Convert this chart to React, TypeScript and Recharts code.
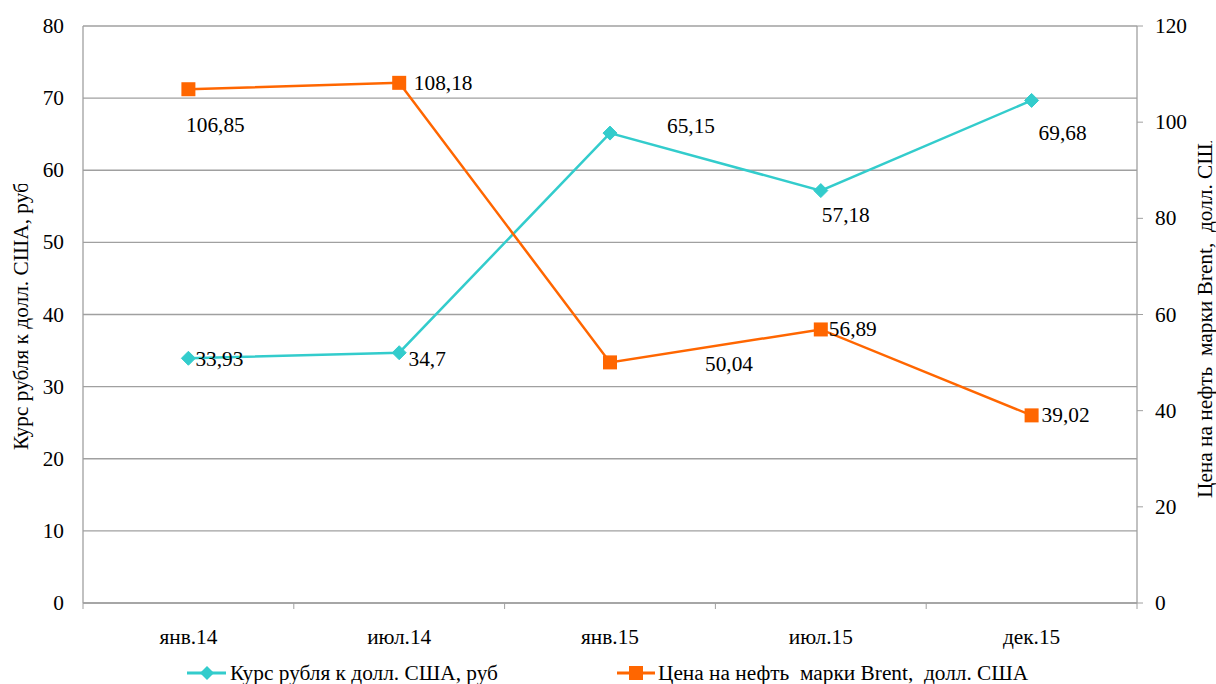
import React from "react";
import {
  LineChart,
  Line,
  XAxis,
  YAxis,
  CartesianGrid,
  Legend,
} from "recharts";

const categories = ["янв.14", "июл.14", "янв.15", "июл.15", "дек.15"];
const rubleValues = [33.93, 34.7, 65.15, 57.18, 69.68];
const brentValues = [106.85, 108.18, 50.04, 56.89, 39.02];
const leftTicks = [0, 10, 20, 30, 40, 50, 60, 70, 80];
const rightTicks = [0, 20, 40, 60, 80, 100, 120];

const rubleName = "Курс рубля к долл. США, руб";
const brentName = "Цена на нефть  марки Brent,  долл. США";

// label offsets (dx, dy) relative to each point
const rubleLabelOffsets = [
  [31, 1],
  [28, 6],
  [81, -7],
  [25, 24],
  [31, 33],
];
const brentLabelOffsets = [
  [27, 36],
  [44, 0],
  [119, 2],
  [32, 0],
  [34, 0],
];

const data = categories.map((c, i) => ({
  cat: c,
  ruble: rubleValues[i],
  brent: brentValues[i],
}));

const TEAL = "#33CCCC";
const ORANGE = "#FF6600";
const GRID = "#A0A0A0";
const FONT = "Liberation Serif";
const FS = 21.33;

const W = 1216;
const H = 684;

const fmt = (v: number) => String(v).replace(".", ",");

const makeLabel =
  (offsets: number[][]) =>
  (props: any) => {
    const { x, y, value, index } = props;
    const [dx, dy] = offsets[index] || [0, 0];
    return (
      <text
        x={x + dx}
        y={y + dy}
        textAnchor="middle"
        dominantBaseline="central"
        style={{ fontFamily: FONT, fontSize: FS }}
        fill="#000"
      >
        {fmt(value)}
      </text>
    );
  };

const Diamond = (props: any) => {
  const { cx, cy } = props;
  if (cx == null || cy == null) return null;
  const r = 7;
  return (
    <path
      d={`M${cx},${cy - r} L${cx + r},${cy} L${cx},${cy + r} L${cx - r},${cy} Z`}
      fill={TEAL}
      stroke={TEAL}
    />
  );
};

const Square = (props: any) => {
  const { cx, cy } = props;
  if (cx == null || cy == null) return null;
  const s = 14;
  return (
    <rect x={cx - s / 2} y={cy - s / 2} width={s} height={s} fill={ORANGE} />
  );
};

const CatTick = (props: any) => {
  const { x, y, payload, index } = props;
  const half = payload && payload.offset ? payload.offset : 105.4;
  const top = y - 8;
  return (
    <g>
      <line x1={x - half} y1={top} x2={x - half} y2={top + 6} stroke={GRID} strokeWidth={1} />
      {index === categories.length - 1 && (
        <line x1={x + half} y1={top} x2={x + half} y2={top + 6} stroke={GRID} strokeWidth={1} />
      )}
      <text
        x={x}
        y={top + 34}
        textAnchor="middle"
        dominantBaseline="central"
        style={{ fontFamily: FONT, fontSize: FS }}
        fill="#000"
      >
        {payload.value}
      </text>
    </g>
  );
};

const LeftValTick = (props: any) => {
  const { x, y, payload } = props;
  return (
    <text
      x={x - 11}
      y={y}
      textAnchor="end"
      dominantBaseline="central"
      style={{ fontFamily: FONT, fontSize: FS }}
      fill="#000"
    >
      {payload.value}
    </text>
  );
};

const RightValTick = (props: any) => {
  const { x, y, payload } = props;
  return (
    <text
      x={x + 10}
      y={y}
      textAnchor="start"
      dominantBaseline="central"
      style={{ fontFamily: FONT, fontSize: FS }}
      fill="#000"
    >
      {payload.value}
    </text>
  );
};

const LegendContent = () => (
  <div style={{ position: "relative", width: W, height: 28 }}>
    <svg
      width={W}
      height={28}
      style={{ position: "absolute", left: 0, top: 0, overflow: "visible" }}
    >
      <line x1={187} y1={14} x2={226} y2={14} stroke={TEAL} strokeWidth={3} />
      <path d="M207,7 L214,14 L207,21 L200,14 Z" fill={TEAL} />
      <text
        x={230}
        y={14}
        dominantBaseline="central"
        style={{ fontFamily: FONT, fontSize: FS }}
        fill="#000"
      >
        {rubleName}
      </text>
      <line x1={617} y1={14} x2={655} y2={14} stroke={ORANGE} strokeWidth={3} />
      <rect x={629} y={7} width={14} height={14} fill={ORANGE} />
      <text
        x={658}
        y={14}
        dominantBaseline="central"
        style={{ fontFamily: FONT, fontSize: FS, whiteSpace: "pre" }}
        fill="#000"
      >
        {brentName}
      </text>
    </svg>
  </div>
);

const LeftTitle = () => {
  return (
    <g>
      <defs>
        <clipPath id="clipLeftTitle">
          <rect x={0} y={184} width={44} height={400} />
        </clipPath>
      </defs>
      <g clipPath="url(#clipLeftTitle)">
        <text
          x={21}
          y={450}
          transform="rotate(-90 21 450)"
          textAnchor="start"
          dominantBaseline="central"
          style={{ fontFamily: FONT, fontSize: FS }}
          fill="#000"
        >
          {rubleName}
        </text>
      </g>
    </g>
  );
};

const RightTitle = () => {
  return (
    <g>
      <defs>
        <clipPath id="clipRightTitle">
          <rect x={1186} y={141} width={30} height={420} />
        </clipPath>
      </defs>
      <g clipPath="url(#clipRightTitle)">
        <text
          x={1205}
          y={498}
          transform="rotate(-90 1205 498)"
          textAnchor="start"
          dominantBaseline="central"
          style={{ fontFamily: FONT, fontSize: FS, whiteSpace: "pre" }}
          fill="#000"
        >
          {brentName}
        </text>
      </g>
    </g>
  );
};

export default function App() {
  return (
    <div
      style={{
        position: "fixed",
        left: 0,
        top: 0,
        width: W,
        height: H,
        overflow: "hidden",
        background: "#fff",
      }}
    >
      <LineChart
        width={W}
        height={H}
        data={data}
        margin={{ top: 26, right: 0, left: 0, bottom: 31 }}
      >
        <CartesianGrid vertical={false} stroke={GRID} strokeWidth={1.3} yAxisId="left" />
        <XAxis
          dataKey="cat"
          scale="band"
          height={50}
          axisLine={{ stroke: GRID, strokeWidth: 1.3 }}
          tickLine={false}
          tick={<CatTick />}
          interval={0}
        />
        <YAxis
          yAxisId="left"
          orientation="left"
          width={83}
          domain={[0, 80]}
          ticks={leftTicks}
          interval={0}
          axisLine={{ stroke: GRID, strokeWidth: 1.3 }}
          tickLine={false}
          tickSize={6}
          tick={<LeftValTick />}
          label={<LeftTitle />}
        />
        <YAxis
          yAxisId="right"
          orientation="right"
          width={79}
          domain={[0, 120]}
          ticks={rightTicks}
          interval={0}
          axisLine={{ stroke: GRID, strokeWidth: 1.3 }}
          tickLine={{ stroke: GRID }}
          tickSize={6}
          tick={<RightValTick />}
          label={<RightTitle />}
        />
        <Legend
          verticalAlign="middle"
          layout="horizontal"
          wrapperStyle={{ top: 659, left: 0, width: W, height: 28 }}
          content={<LegendContent />}
        />
        <Line
          yAxisId="left"
          dataKey="ruble"
          name={rubleName}
          stroke={TEAL}
          strokeWidth={2.5}
          dot={<Diamond />}
          activeDot={false}
          isAnimationActive={false}
          label={makeLabel(rubleLabelOffsets)}
        />
        <Line
          yAxisId="right"
          dataKey="brent"
          name={brentName}
          stroke={ORANGE}
          strokeWidth={2.5}
          dot={<Square />}
          activeDot={false}
          isAnimationActive={false}
          label={makeLabel(brentLabelOffsets)}
        />
      </LineChart>
    </div>
  );
}
